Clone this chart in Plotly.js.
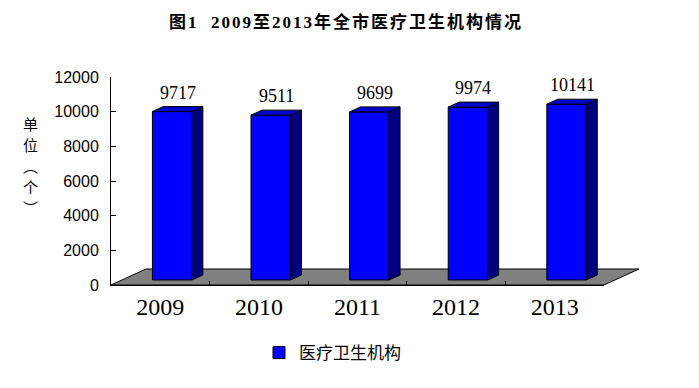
<!DOCTYPE html>
<html>
<head>
<meta charset="utf-8">
<script src="https://cdn.plot.ly/plotly-3.0.1.min.js"></script>
<style>
  html, body { margin: 0; padding: 0; background: #fff; }
  #chart { width: 699px; height: 388px; }
  .gtitle { letter-spacing: 2px; }
</style>
</head>
<body>
<div id="chart"></div>
<script>
// ---- data ----
const years = ['2009', '2010', '2011', '2012', '2013'];
const counts = [9717, 9511, 9699, 9974, 10141];
const seriesName = '医疗卫生机构';
const yTickVals = [0, 2000, 4000, 6000, 8000, 10000, 12000];
const chartTitle = '图1  2009至2013年全市医疗卫生机构情况';
const yTitleChars = ['单', '位', '︵', '个', '︶'];

// ---- geometry / style ----
const W = 699, H = 388;
const mL = 111, mR = 95, mT = 77, mB = 103;
const plotW = W - mL - mR, plotH = H - mT - mB;
const yMax = 12000;
const pxPerX = plotW / years.length;
const unitsPerPxY = yMax / plotH;
const ddx = 11 / pxPerX;          // bar depth (x, data units)
const ddy = 5 * unitsPerPxY;      // bar depth (y, data units)
const base = ddy;                  // bar front plane raised
const frontOffset = 0.62, barW = 0.40;
const floorDx = 35 / plotW, floorDy = 16 / plotH;

const serif = '"Liberation Serif", "Noto Sans CJK SC", serif';
const cjk = '"Noto Sans CJK SC", "Liberation Serif", sans-serif';

const xc = counts.map((_, i) => i + frontOffset);
const xl = xc.map(v => v - barW / 2);
const xr = xc.map(v => v + barW / 2);

const sideX = [], sideY = [], topX = [], topY = [];
counts.forEach((v, i) => {
  sideX.push(xr[i], xr[i] + ddx, xr[i] + ddx, xr[i], xr[i], null);
  sideY.push(base, base + ddy, base + ddy + v, base + v, base, null);
  topX.push(xl[i], xr[i], xr[i] + ddx, xl[i] + ddx, xl[i], null);
  topY.push(base + v, base + v, base + v + ddy, base + v + ddy, base + v, null);
});

const traces = [
  {
    type: 'bar', name: seriesName,
    x: xc, y: counts, base: base, width: barW,
    marker: { color: '#0000FF', line: { color: '#000', width: 1 } },
    hoverinfo: 'skip', showlegend: true
  },
  {
    type: 'scatter', mode: 'lines', x: sideX, y: sideY,
    fill: 'toself', fillcolor: '#000080', connectgaps: false,
    line: { color: '#000', width: 1 }, hoverinfo: 'skip', showlegend: false
  },
  {
    type: 'scatter', mode: 'lines', x: topX, y: topY,
    fill: 'toself', fillcolor: '#0000CC', connectgaps: false,
    line: { color: '#000', width: 1 }, hoverinfo: 'skip', showlegend: false
  }
];

const annotations = counts.map((v, i) => ({
  x: xc[i] + ddx / 2, y: base + v + ddy, xref: 'x', yref: 'y',
  text: String(v), showarrow: false, yanchor: 'middle', yshift: 14,
  font: { family: serif, size: 18, color: '#000' }
}));
// vertical y-axis title, one character per row
const yTitleTop = 123, yTitleStep = 21;
yTitleChars.forEach((ch, k) => {
  annotations.push({
    xref: 'paper', yref: 'paper',
    x: (30 - mL) / plotW, y: (H - mB - (yTitleTop + k * yTitleStep)) / plotH,
    xanchor: 'center', yanchor: 'middle', showarrow: false,
    text: ch, font: { family: cjk, size: 15, color: '#000' }
  });
});

const layout = {
  width: W, height: H,
  margin: { l: mL, r: mR, t: mT, b: mB },
  paper_bgcolor: '#fff', plot_bgcolor: 'rgba(0,0,0,0)',
  title: {
    text: '<b>' + chartTitle + '</b>',
    xref: 'container', yref: 'container',
    x: 346 / W, xanchor: 'center', y: 1 - 21.7 / H, yanchor: 'middle',
    font: { family: serif, size: 17, color: '#000' }
  },
  xaxis: {
    range: [0, years.length], fixedrange: true,
    tickmode: 'array', tickvals: years.map((_, i) => i + 0.5), ticktext: years,
    ticks: '', ticklabelstandoff: 0,
    tickfont: { family: serif, size: 24, color: '#000' },
    showgrid: false, zeroline: false,
    showline: true, linecolor: '#000', linewidth: 1,
    minor: { tickmode: 'array', tickvals: [1, 2, 3, 4], ticks: 'inside', ticklen: 4, tickcolor: '#000', tickwidth: 1, showgrid: false }
  },
  yaxis: {
    range: [0, yMax], fixedrange: true,
    tickmode: 'array', tickvals: yTickVals, ticktext: yTickVals.map(String),
    ticks: 'inside', ticklen: 5, tickcolor: '#000', ticklabelstandoff: 8,
    tickfont: { family: '"Liberation Sans", Arial, sans-serif', size: 16, color: '#000' },
    showgrid: false, zeroline: false,
    showline: true, linecolor: '#000', linewidth: 1
  },
  shapes: [{
    type: 'path', xref: 'paper', yref: 'paper', layer: 'below',
    path: 'M0,0 L1,0 L' + (1 + floorDx) + ',' + floorDy + ' L' + floorDx + ',' + floorDy + ' Z',
    fillcolor: '#808080', line: { color: '#000', width: 1 }
  }],
  annotations: annotations,
  showlegend: true,
  legend: {
    orientation: 'h', xref: 'paper', yref: 'paper',
    x: (259 - mL) / plotW, xanchor: 'left',
    y: -(353 - (H - mB)) / plotH, yanchor: 'middle',
    bgcolor: 'rgba(0,0,0,0)', borderwidth: 0,
    font: { family: cjk, size: 17, color: '#000' }
  },
  bargap: 0
};

Plotly.newPlot('chart', traces, layout, { displayModeBar: false, staticPlot: true });
</script>
</body>
</html>
